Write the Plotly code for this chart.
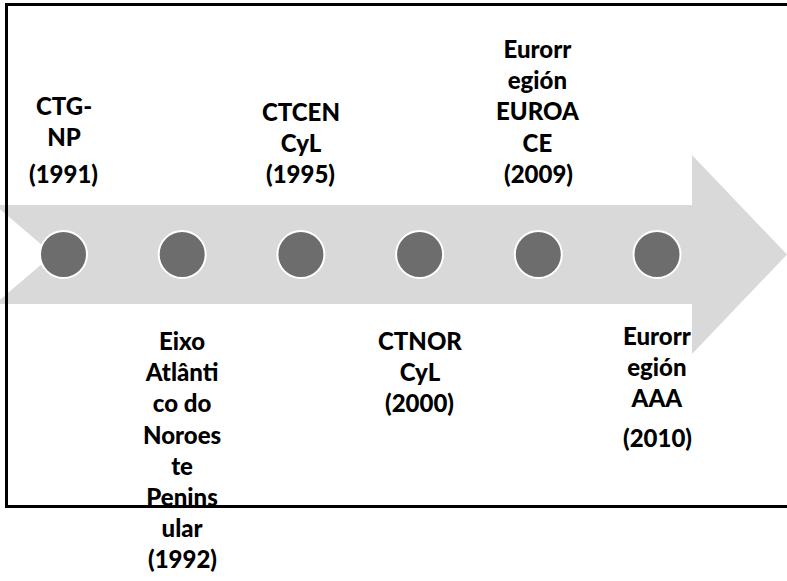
import plotly.graph_objects as go

# ---- data ----
event_names = [
    "CTG-<br>NP",
    "Eixo<br>Atlânti<br>co do<br>Noroes<br>te<br>Penins<br>ular",
    "CTCEN<br>CyL",
    "CTNOR<br>CyL",
    "Eurorr<br>egión<br>EUROA<br>CE",
    "Eurorr<br>egión<br>AAA",
]
event_years = [1991, 1992, 1995, 2000, 2009, 2010]
event_sides = ["above", "below", "above", "below", "above", "below"]

# ---- layout / style ----
W, H = 787, 581
X0_PX, STEP_PX = 63.5, 118.7     # pixel position of first event, spacing
CY_PX = 254.5                    # timeline centre (pixels from top)
FSIZE = 24
FONT = dict(family="Lato, Carlito, Calibri, sans-serif", size=FSIZE, color="#000000", weight=900)
LINE = FSIZE * 1.3
# extra gap (px) before the year line for some labels (as in the source layout)
year_gap = {0: 6, 5: 8}
# small vertical nudge (px, up positive) of some label blocks
block_shift = {5: 5}

def px(x):
    return x / W

def py(y):
    return 1 - y / H

idx = list(range(len(event_names)))

fig = go.Figure()
fig.add_trace(go.Scatter(
    x=idx, y=[0] * len(idx), mode="markers",
    marker=dict(size=47, color="#6d6d6d", line=dict(color="#ffffff", width=2)),
    hoverinfo="skip", showlegend=False,
))

# arrow (notched right arrow), pixel coordinates -> paper
arrow_pts = [(-5, 205), (692, 205), (692, 155), (787, 254.5), (692, 354),
             (692, 304), (-5, 304), (53, 254.5)]
path = "M " + " L ".join(f"{px(a):.5f},{py(b):.5f}" for a, b in arrow_pts) + " Z"
shapes = [dict(type="path", path=path, xref="paper", yref="paper",
               fillcolor="#d9d9d9", line=dict(width=0), layer="below")]
# frame (top, left, bottom; right side outside the picture)
frame = [(800, 4.5), (6.5, 4.5), (6.5, 506.5), (800, 506.5)]
fpath = "M " + " L ".join(f"{px(a):.5f},{py(b):.5f}" for a, b in frame)
shapes.append(dict(type="path", path=fpath, xref="paper", yref="paper",
                   line=dict(color="#000000", width=3), layer="above"))

annotations = []
ABOVE_BOTTOM = CY_PX - 190     # y-units (up positive) of the bottom of year text
BELOW_TOP = CY_PX - 324        # y-units of top of text below
for i, (name, yr, side) in enumerate(zip(event_names, event_years, event_sides)):
    n_lines = name.count("<br>") + 1
    gap = year_gap.get(i, 0)
    sh = block_shift.get(i, 0)
    if side == "above":
        annotations.append(dict(x=i, y=ABOVE_BOTTOM + sh, text=f"({yr})", showarrow=False,
                                yanchor="bottom", font=FONT, xref="x", yref="y"))
        annotations.append(dict(x=i, y=ABOVE_BOTTOM + sh + LINE + gap, text=name,
                                showarrow=False, yanchor="bottom", font=FONT,
                                xref="x", yref="y"))
    else:
        annotations.append(dict(x=i, y=BELOW_TOP + sh, text=name, showarrow=False,
                                yanchor="top", font=FONT, xref="x", yref="y"))
        annotations.append(dict(x=i, y=BELOW_TOP + sh - LINE * n_lines - gap, text=f"({yr})",
                                showarrow=False, yanchor="top", font=FONT,
                                xref="x", yref="y"))

fig.update_layout(
    width=W, height=H,
    margin=dict(l=0, r=0, t=0, b=0),
    paper_bgcolor="#ffffff", plot_bgcolor="#ffffff",
    shapes=shapes, annotations=annotations,
    xaxis=dict(range=[-X0_PX / STEP_PX, (W - X0_PX) / STEP_PX], visible=False, fixedrange=True),
    yaxis=dict(range=[CY_PX - H, CY_PX], visible=False, fixedrange=True),
    showlegend=False,
)
fig.write_html("out.html", config=dict(displayModeBar=False),
               post_script="document.body.style.margin='0';document.body.style.overflow='hidden';")
